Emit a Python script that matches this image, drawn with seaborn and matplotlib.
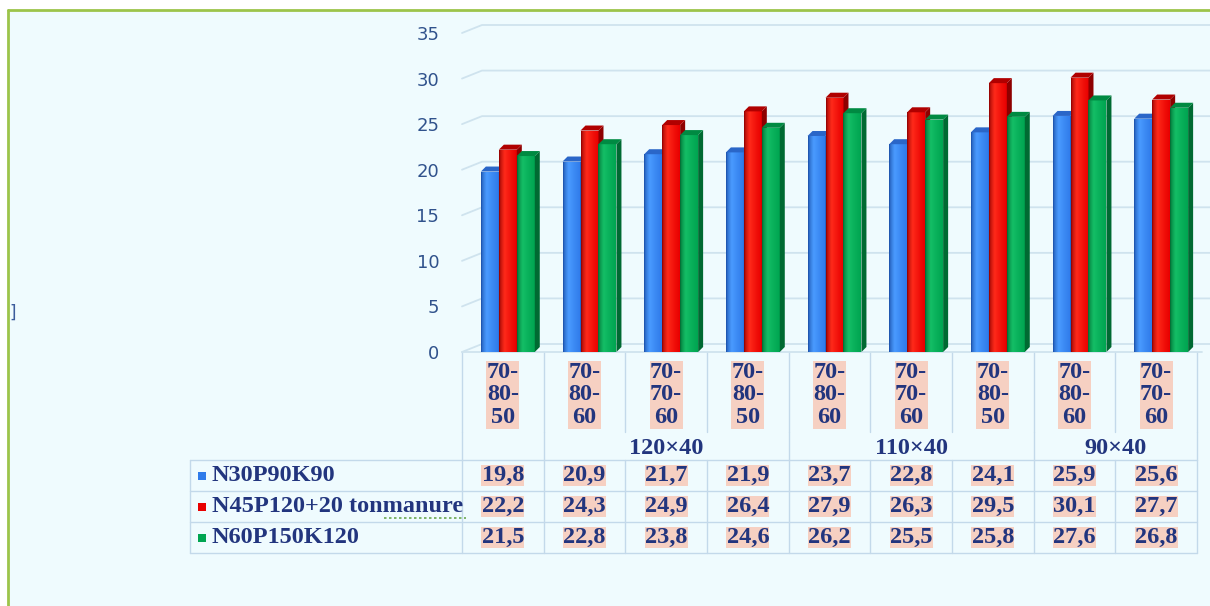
import numpy as np
import pandas as pd
import matplotlib
matplotlib.use("Agg")
import matplotlib.pyplot as plt
import seaborn as sns
from matplotlib.patches import Polygon, Rectangle
from matplotlib.colors import LinearSegmentedColormap

# ---------------------------------------------------------
# DATA
# ---------------------------------------------------------
categories = ["70-\n80-\n50", "70-\n80-\n60", "70-\n70-\n60",
              "70-\n80-\n50", "70-\n80-\n60", "70-\n70-\n60",
              "70-\n80-\n50", "70-\n80-\n60", "70-\n70-\n60"]
group_labels = ["", "120×40", "110×40", "90×40"]
group_sizes = [1, 3, 3, 2]
series_names = ["N30P90K90", "N45P120+20 tonmanure", "N60P150K120"]
n30p90k90 = [19.8, 20.9, 21.7, 21.9, 23.7, 22.8, 24.1, 25.9, 25.6]
n45p120_manure = [22.2, 24.3, 24.9, 26.4, 27.9, 26.3, 29.5, 30.1, 27.7]
n60p150k120 = [21.5, 22.8, 23.8, 24.6, 26.2, 25.5, 25.8, 27.6, 26.8]
y_ticks = [0, 5, 10, 15, 20, 25, 30, 35]

series_values = [n30p90k90, n45p120_manure, n60p150k120]
cat_ids = [f"c{i}" for i in range(len(categories))]
df = pd.DataFrame({
    "cat": [c for _ in series_names for c in cat_ids],
    "series": [s for s in series_names for _ in cat_ids],
    "value": [v for vals in series_values for v in vals],
})

# ---------------------------------------------------------
# STYLE
# ---------------------------------------------------------
sns.set_style("white")
plt.rcParams["font.family"] = ["DejaVu Sans"]

front = ["#2F7BEA", "#E80000", "#00A551"]
light = ["#4A9BFF", "#FF2A1A", "#14BE66"]
side = ["#1A4FA8", "#8E0000", "#006A32"]
top = ["#2A66C8", "#B00000", "#008A42"]
bg_col = "#EFFBFE"
grid_col = "#CFE3EE"
text_col = "#22357E"
hi_col = "#F6D0C2"

W, H = 1210, 606
fig = plt.figure(figsize=(W / 100, H / 100), dpi=100)
fig.patch.set_facecolor("white")

# background / overlay axes in pixel coords
bg = fig.add_axes([0, 0, 1, 1], zorder=0)
bg.set_xlim(0, W)
bg.set_ylim(H, 0)
bg.axis("off")
bg.add_patch(Rectangle((8, 10), W - 8, H - 10, facecolor=bg_col, edgecolor="none"))
bg.plot([8, W], [10, 10], color="#9CC44A", lw=2)
bg.plot([8, 8], [10, H], color="#9CC44A", lw=2)
bg.text(9, 313, "]", color="#3C5C9C", fontsize=12, ha="left", va="center")

# ---------------------------------------------------------
# BAR CHART
# ---------------------------------------------------------
ax_left, ax_right = 467, 1202
y0_px, y35_px = 352, 33
ax = fig.add_axes([ax_left / W, (H - y0_px) / H, (ax_right - ax_left) / W,
                   (y0_px - y35_px) / H], zorder=1)
ax.patch.set_alpha(0)

sns.barplot(data=df, x="cat", y="value", hue="series", order=cat_ids,
            hue_order=series_names, palette=front, width=0.66, dodge=True,
            legend=False, ax=ax, saturation=1)

n = len(categories)
ax.set_xlim(-0.5, n - 0.5)
ax.set_ylim(0, 35)
px_x = n / (ax_right - ax_left)
px_y = 35 / (y0_px - y35_px)
dx, dy = 5 * px_x, 5 * px_y

# 3D look: gradient front, dark side and top faces
for k, cont in enumerate(ax.containers):
    cmap = LinearSegmentedColormap.from_list(f"g{k}", [side[k], light[k], front[k]])
    for bar in cont:
        x, w, h = bar.get_x(), bar.get_width(), bar.get_height()
        bar.set_zorder(3 + k)
        bar.set_edgecolor("none")
        grad = ax.imshow(np.linspace(0, 1, 32)[None, :] ** 0.6, cmap=cmap, aspect="auto",
                         extent=(x, x + w, 0, h), zorder=3 + k)
        grad.set_clip_path(bar)
        ax.add_patch(Polygon([(x + w, 0), (x + w + dx, dy), (x + w + dx, h + dy), (x + w, h)],
                             closed=True, facecolor=side[k], edgecolor="none", zorder=3 + k))
        ax.add_patch(Polygon([(x, h), (x + dx, h + dy), (x + w + dx, h + dy), (x + w, h)],
                             closed=True, facecolor=top[k], edgecolor="none", zorder=3 + k))

ax.set_aspect("auto")
ax.set_xlim(-0.5, n - 0.5)
ax.set_ylim(0, 35)

# back wall gridlines
gx = 15 * px_x
gy = 8 * px_y
for v in y_ticks:
    ax.plot([-0.5 - 5 * px_x, -0.5 + gx, n - 0.5 + 8 * px_x], [v, v + gy, v + gy],
            color=grid_col, lw=1.3, zorder=1, clip_on=False)
ax.plot([-0.5 - 5 * px_x, n - 0.5], [0, 0], color=grid_col, lw=1.3, zorder=1, clip_on=False)

ax.set_yticks(y_ticks)
ax.set_yticklabels([str(v) for v in y_ticks])
ax.tick_params(axis="y", length=0, pad=20, labelsize=13, labelcolor="#30528C")
ax.set_xticks([])
ax.set_xlabel("")
ax.set_ylabel("")
for s in ax.spines.values():
    s.set_visible(False)

# ---------------------------------------------------------
# DATA TABLE
# ---------------------------------------------------------
tab_x0 = 462
col_w = (1197 - tab_x0) / n
leg_x0 = 190
row_lines = [460, 491, 522, 553]
serif = dict(family="Liberation Serif", weight="bold", color=text_col, fontsize=17.5)

def col_center(i):
    return tab_x0 + col_w * (i + 0.5)

# grid lines
lc = dict(color="#C3D9EA", lw=1)
for yl in row_lines:
    bg.plot([leg_x0, tab_x0 + col_w * n], [yl, yl], **lc)
bg.plot([leg_x0, leg_x0], [row_lines[0], row_lines[-1]], **lc)
for i in range(n + 1):
    bg.plot([tab_x0 + col_w * i] * 2, [352, 432], **lc)
    bg.plot([tab_x0 + col_w * i] * 2, [row_lines[0], row_lines[-1]], **lc)
edges = np.concatenate([[0], np.cumsum(group_sizes)])
for e in edges:
    bg.plot([tab_x0 + col_w * e] * 2, [432, row_lines[0]], **lc)

# category labels
for i, lab in enumerate(categories):
    bg.text(col_center(i), 395, lab, ha="center", va="center", linespacing=1.1,
            bbox=dict(facecolor=hi_col, edgecolor="none", pad=0.3), **serif)

# group labels
for g, lab in enumerate(group_labels):
    cx = tab_x0 + col_w * (edges[g] + edges[g + 1]) / 2
    bg.text(cx, 449, lab, ha="center", va="center", **serif)

# series rows
for r, (name, vals) in enumerate(zip(series_names, series_values)):
    yc = (row_lines[r] + row_lines[r + 1]) / 2
    bg.add_patch(Rectangle((198, yc - 4), 8, 8, facecolor=front[r], edgecolor="none"))
    bg.text(212, yc, name, ha="left", va="center", **serif)
    for i, v in enumerate(vals):
        bg.text(col_center(i), yc, f"{v:.1f}".replace(".", ","), ha="center", va="center",
                bbox=dict(facecolor=hi_col, edgecolor="none", pad=0.2), **serif)

# spell-check underline
bg.plot([384, 466], [518, 518], color="#6AA84F", lw=1.2, ls=(0, (1.5, 1.5)))

fig.savefig("out.png", dpi=100, facecolor=fig.get_facecolor())
